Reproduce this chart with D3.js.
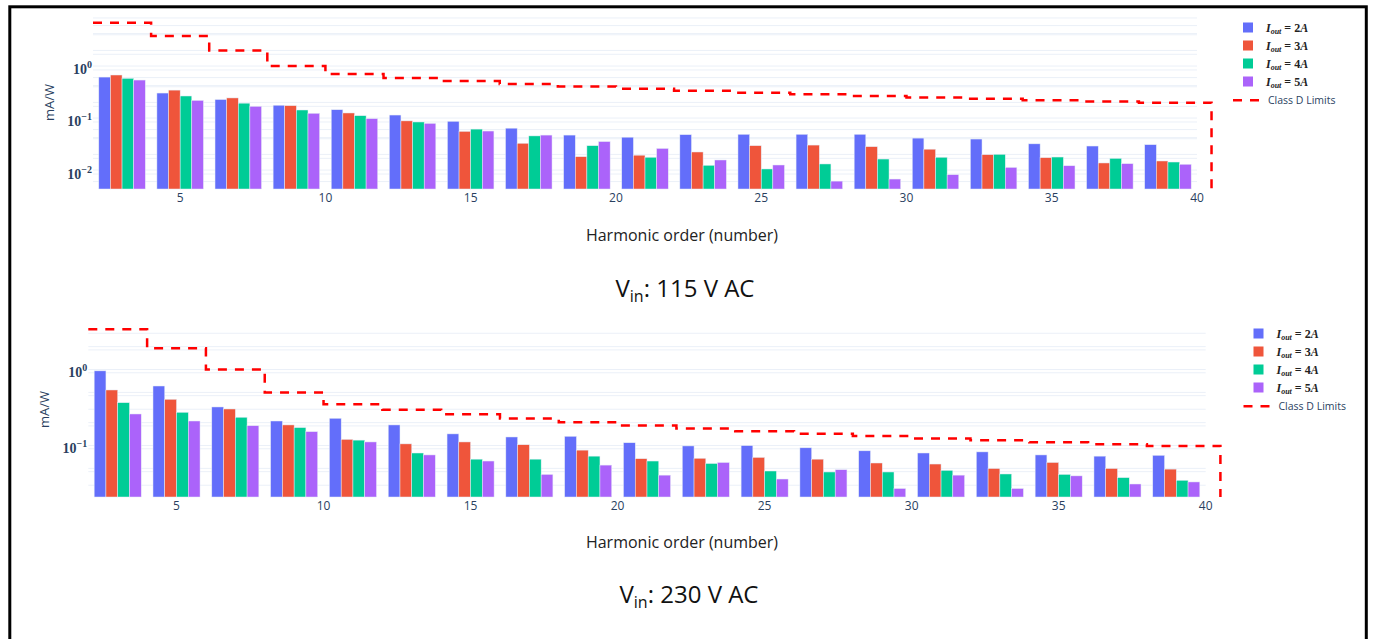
<!DOCTYPE html>
<html lang="en">
<head>
<meta charset="utf-8">
<title>Harmonic currents vs Class D limits</title>
<script src="https://cdn.jsdelivr.net/npm/d3@7"></script>
<style>
  body { margin: 0; background: #fff; }
  svg text { font-family: "Open Sans", sans-serif; }
</style>
</head>
<body>
<div id="chart"></div>
<script>
// harmonic order of each bar group
var harmonics = [3,5,7,9,11,13,15,17,19,21,23,25,27,29,31,33,35,37,39];
var seriesNames = ["2A", "3A", "4A", "5A"];
var colors = ["#636efa", "#EF553B", "#00cc96", "#ab63fa"];
var xTicks = [5,10,15,20,25,30,35,40];

// Vin = 115 V AC, mA/W per output current
var v115_2A = [0.73,0.36,0.27,0.21,0.172,0.136,0.103,0.076,0.056,0.051,0.057,0.058,0.058,0.058,0.049,0.047,0.038,0.0345,0.0366];
var v115_3A = [0.80,0.41,0.29,0.206,0.149,0.105,0.066,0.039,0.0215,0.023,0.0265,0.035,0.036,0.0335,0.030,0.0235,0.0206,0.0163,0.0178];
var v115_4A = [0.69,0.316,0.23,0.17,0.132,0.10,0.073,0.054,0.035,0.021,0.0147,0.0125,0.0156,0.0194,0.021,0.0239,0.0212,0.020,0.017];
var v115_5A = [0.64,0.26,0.20,0.147,0.116,0.094,0.067,0.056,0.042,0.031,0.0186,0.0149,0.0073,0.008,0.0097,0.0134,0.0144,0.0158,0.0154];

// Vin = 230 V AC
var v230_2A = [1.06,0.67,0.355,0.232,0.252,0.206,0.157,0.143,0.146,0.12,0.109,0.11,0.103,0.094,0.088,0.091,0.083,0.080,0.082];
var v230_3A = [0.594,0.448,0.334,0.206,0.133,0.116,0.123,0.113,0.096,0.074,0.075,0.077,0.073,0.065,0.063,0.055,0.066,0.055,0.054];
var v230_4A = [0.404,0.302,0.26,0.19,0.13,0.088,0.073,0.073,0.08,0.069,0.064,0.051,0.0495,0.0495,0.052,0.0466,0.046,0.0417,0.0385];
var v230_5A = [0.287,0.232,0.201,0.168,0.123,0.083,0.069,0.046,0.061,0.045,0.066,0.040,0.053,0.030,0.045,0.030,0.044,0.0344,0.0366];

// Class D limits (mA/W), plotted on their own overlaid log axis
var classDLimits = [3.4,1.9,1.0,0.5,0.35,0.296,0.257,0.226,0.203,0.183,0.167,0.154,0.143,0.133,0.124,0.117,0.110,0.104,0.0987];
var limitEndX = 40.5;

var W = 1373, H = 639;
var svg = d3.select("#chart").append("svg").attr("width", W).attr("height", H);
svg.append("rect").attr("width", W).attr("height", H).attr("fill", "#fff");
svg.append("rect").attr("x", 9.8).attr("y", 6.8).attr("width", 1356.5).attr("height", 660)
  .attr("fill", "none").attr("stroke", "#000").attr("stroke-width", 3);

var panels = [
  {series: [v115_2A, v115_3A, v115_4A, v115_5A], left: 93, right: 1197, top: 16, bottom: 189,
   yDom: [0.00515, 10.9], y2Dom: [0.00216, 4.59], yTicks: [1, 0.1, 0.01], ytitleX: 49,
   legX: 1248, legY: 27.5, axisTitleY: 241, titleX: 685, titleY: 297, vin: "115"},
  {series: [v230_2A, v230_3A, v230_4A, v230_5A], left: 88.3, right: 1205.7, top: 322, bottom: 497,
   yDom: [0.0232, 4.66], y2Dom: [0.021, 4.22], yTicks: [1, 0.1], ytitleX: 44,
   legX: 1258.5, legY: 333.5, axisTitleY: 548, titleX: 689, titleY: 603, vin: "230"}
];

function gridValues(dom, mults) {
  var out = [];
  for (var k = -4; k <= 2; k++) {
    mults.forEach(function(m) {
      var v = m * Math.pow(10, k);
      if (v >= dom[0] && v <= dom[1]) out.push(v);
    });
  }
  return out;
}

panels.forEach(function(p) {
  var x = d3.scaleLinear().domain([2, 40]).range([p.left, p.right]);
  var y = d3.scaleLog().domain(p.yDom).range([p.bottom, p.top]);
  var y2 = d3.scaleLog().domain(p.y2Dom).range([p.bottom, p.top]);
  var g = svg.append("g");

  // gridlines of both log axes
  var grid = gridValues(p.yDom, [1,2,5]).map(y).concat(gridValues(p.y2Dom, [1,2,3,5]).map(y2));
  g.selectAll(".grid").data(grid).enter().append("line")
    .attr("x1", p.left).attr("x2", p.right)
    .attr("y1", function(d) { return d; }).attr("y2", function(d) { return d; })
    .attr("stroke", "#EBF0F8").attr("stroke-width", 1);

  // bars
  var slot = 0.4;
  p.series.forEach(function(vals, si) {
    g.selectAll(".bar" + si).data(vals).enter().append("rect")
      .attr("x", function(d, i) { return x(harmonics[i] - 0.8 + si * slot); })
      .attr("width", x(2 + slot) - x(2))
      .attr("y", function(d) { return y(d); })
      .attr("height", function(d) { return p.bottom - y(d); })
      .attr("fill", colors[si])
      .attr("stroke", "#E5ECF6").attr("stroke-width", 0.5);
  });

  // Class D limit step line
  var pts = [];
  classDLimits.forEach(function(l, i) {
    pts.push([x(harmonics[i] - 1), y2(l)]);
    pts.push([x(harmonics[i] + 1), y2(l)]);
  });
  pts[pts.length - 1][0] = x(limitEndX);
  pts.push([x(limitEndX), p.bottom]);
  g.append("path").attr("d", d3.line()(pts))
    .attr("fill", "none").attr("stroke", "red").attr("stroke-width", 2.5)
    .attr("stroke-dasharray", "9,8");

  // x tick labels
  g.selectAll(".xt").data(xTicks).enter().append("text")
    .attr("x", function(d) { return x(d); }).attr("y", p.bottom + 13)
    .attr("text-anchor", "middle").attr("font-size", 12).attr("fill", "#2a3f5f")
    .text(function(d) { return d; });

  // y tick labels 10^k
  p.yTicks.forEach(function(t) {
    var e = Math.round(Math.log10(t));
    var tx = g.append("text").attr("x", p.left - 1).attr("y", y(t) + 4.5)
      .attr("text-anchor", "end").attr("fill", "#2a3f5f")
      .style("font-family", "'Liberation Serif', serif").style("font-weight", "bold")
      .attr("font-size", 14);
    tx.append("tspan").text("10");
    tx.append("tspan").attr("dy", -6).attr("font-size", 10).text(e === 0 ? "0" : "\u2212" + Math.abs(e));
  });

  g.append("text").attr("transform", "translate(" + p.ytitleX + "," + ((p.top + p.bottom) / 2) + ") rotate(-90)")
    .attr("text-anchor", "middle").attr("dy", "0.35em").attr("font-size", 13).attr("fill", "#2a3f5f")
    .text("mA/W");

  // axis title and caption
  g.append("text").attr("x", 682).attr("y", p.axisTitleY).attr("text-anchor", "middle")
    .attr("font-size", 16).attr("fill", "#222").text("Harmonic order (number)");
  var cap = g.append("text").attr("x", p.titleX).attr("y", p.titleY).attr("text-anchor", "middle")
    .attr("font-size", 24).attr("fill", "#111");
  cap.append("tspan").text("V");
  cap.append("tspan").attr("font-size", 16).attr("dy", 5).text("in");
  cap.append("tspan").attr("dy", -5).text(": " + p.vin + " V AC");

  // legend
  var leg = g.append("g");
  seriesNames.forEach(function(n, i) {
    var ly = p.legY + i * 18;
    leg.append("rect").attr("x", p.legX - 5).attr("y", ly - 5).attr("width", 10).attr("height", 10)
      .attr("fill", colors[i]);
    var t = leg.append("text").attr("x", p.legX + 18).attr("y", ly + 4)
      .style("font-family", "'Liberation Serif', serif").style("font-weight", "bold")
      .attr("font-size", 12).attr("fill", "#222");
    t.append("tspan").style("font-style", "italic").text("I");
    t.append("tspan").style("font-style", "italic").attr("font-size", 8).attr("dy", 2).text("out");
    t.append("tspan").attr("dy", -2).text(" = " + n.slice(0, -1));
    t.append("tspan").style("font-style", "italic").text(n.slice(-1));
  });
  var dy = p.legY + 4 * 18.2;
  leg.append("line").attr("x1", p.legX - 15).attr("x2", p.legX + 12).attr("y1", dy).attr("y2", dy)
    .attr("stroke", "red").attr("stroke-width", 2.5).attr("stroke-dasharray", "9,8");
  leg.append("text").attr("x", p.legX + 20).attr("y", dy + 4).attr("font-size", 10.5)
    .attr("fill", "#2a3f5f").text("Class D Limits");
});
</script>
</body>
</html>
